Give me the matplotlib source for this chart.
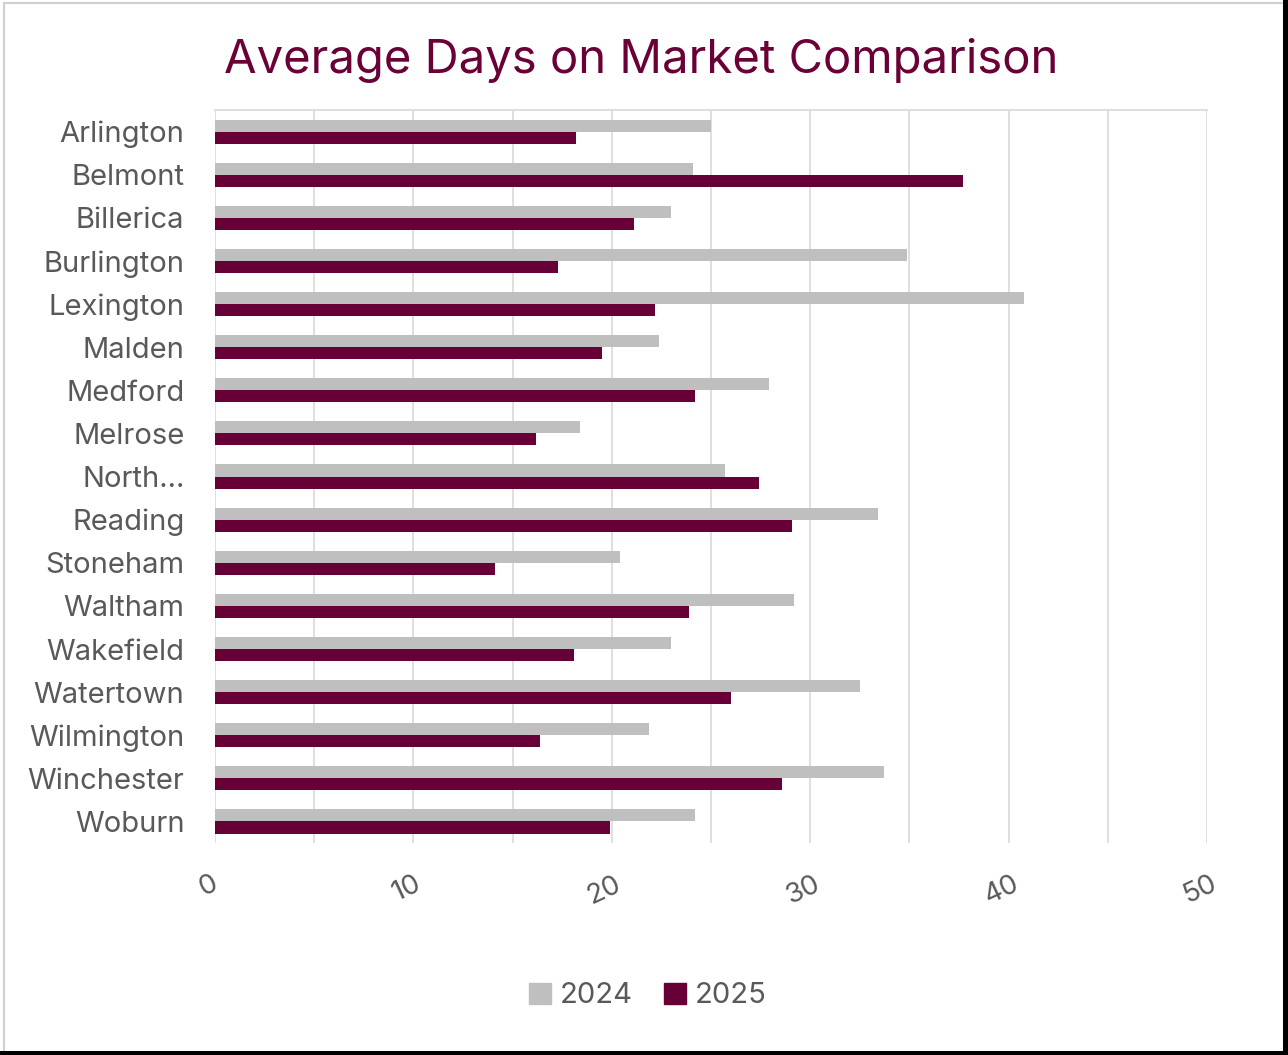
import matplotlib.pyplot as plt
import matplotlib.transforms as mtransforms
from matplotlib.patches import Rectangle, Patch
import numpy as np

towns = ["Arlington", "Belmont", "Billerica", "Burlington", "Lexington", "Malden",
         "Medford", "Melrose", "North...", "Reading", "Stoneham", "Waltham",
         "Wakefield", "Watertown", "Wilmington", "Winchester", "Woburn"]
days_2024 = [25.0, 24.1, 23.0, 34.9, 40.8, 22.4, 27.9, 18.4, 25.7, 33.4,
             20.4, 29.2, 23.0, 32.5, 21.9, 33.7, 24.2]
days_2025 = [18.2, 37.7, 21.1, 17.3, 22.2, 19.5, 24.2, 16.2, 27.4, 29.1,
             14.1, 23.9, 18.1, 26.0, 16.4, 28.6, 19.9]
xticks = [0, 10, 20, 30, 40, 50]

grey = "#bfbfbf"
maroon = "#660036"
text_col = "#595959"
plt.rcParams['font.family'] = ['Inter', 'DejaVu Sans']

fig = plt.figure(figsize=(12.88, 10.55), dpi=100)
# frame around the chart, dark shadow on right/bottom
fig.patches.append(Rectangle((0.003, 0.003), 0.994, 0.994, transform=fig.transFigure,
                             facecolor="white", edgecolor="#d0d0d0", lw=1.5, zorder=-2))
fig.patches.append(Rectangle((0.9965, 0.0), 0.0035, 1.0, transform=fig.transFigure,
                             facecolor="black", edgecolor="none", zorder=-1))
fig.patches.append(Rectangle((0.0, 0.0), 1.0, 0.004, transform=fig.transFigure,
                             facecolor="black", edgecolor="none", zorder=-1))

ax = fig.add_axes([0.1669, 0.2009, 0.7702, 0.6948])
y = np.arange(len(towns))
h = 0.28
ax.barh(y - h / 2, days_2024, height=h, color=grey, label="2024", zorder=3)
ax.barh(y + h / 2, days_2025, height=h, color=maroon, label="2025", zorder=3)

ax.set_xlim(0, 50)
ax.set_ylim(len(towns) - 0.5, -0.5)
ax.set_yticks(y)
ax.set_yticklabels(towns, fontsize=21, color=text_col)
ax.set_xticks(xticks)
ax.set_xticks(np.arange(0, 51, 5), minor=True)
ax.set_xticklabels([str(t) for t in xticks], fontsize=20, color=text_col, rotation=25)
ax.tick_params(axis='y', length=0, pad=22)
ax.tick_params(axis='x', which='both', length=0, pad=20)
shift = mtransforms.ScaledTranslation(-0.07, 0, fig.dpi_scale_trans)
for lab in ax.get_xticklabels():
    lab.set_transform(lab.get_transform() + shift)
ax.grid(axis='x', which='both', color="#d9d9d9", lw=1.2, zorder=0)
for s in ["left", "right", "bottom"]:
    ax.spines[s].set_visible(False)
ax.spines["top"].set_color("#d9d9d9")
ax.spines["top"].set_linewidth(1.2)

fig.text(0.498, 0.943, "Average Days on Market Comparison", ha="center", va="center",
         fontsize=34, color="#6b0036")

handles = [Patch(color=grey, label="2024"), Patch(color=maroon, label="2025")]
leg = fig.legend(handles=handles, loc="center", bbox_to_anchor=(0.503, 0.056), ncol=2,
                 frameon=False, fontsize=21, handlelength=0.75, handleheight=0.75,
                 handletextpad=0.3, columnspacing=1.1)
for t in leg.get_texts():
    t.set_color(text_col)

fig.savefig("out.png", dpi=100)
